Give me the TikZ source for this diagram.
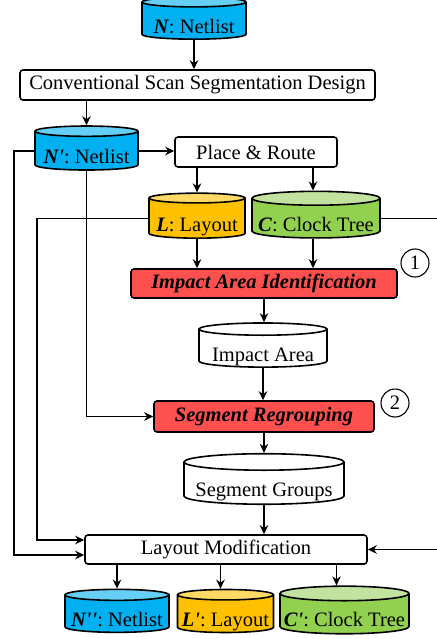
\documentclass[tikz,border=0pt]{standalone}
\usepackage{fontspec}
\setmainfont{Liberation Serif}
\usepackage{tikz}
\usetikzlibrary{shapes.geometric,arrows.meta}

\definecolor{netblue}{HTML}{00B0F0}
\definecolor{nettop}{HTML}{66CFF5}
\definecolor{layyel}{HTML}{FFC000}
\definecolor{laytop}{HTML}{FFD966}
\definecolor{clkgrn}{HTML}{92D050}
\definecolor{clktop}{HTML}{C2E3A0}
\definecolor{stepred}{HTML}{FF5050}

\newcommand{\figfont}{\fontsize{20.5}{24}\selectfont}
\newcommand{\bi}[1]{\textbf{\textit{#1}}}

\tikzset{
  proc/.style={draw, line width=1.6pt, rounded corners=3pt, fill=white,
    minimum height=30pt, inner sep=0pt},
  keyproc/.style={proc, fill=stepred, font=\figfont\bfseries\itshape},
  db/.style={cylinder, shape border rotate=90, draw, line width=1.6pt,
    aspect=0.12, inner sep=0pt, text height=25pt, text depth=0pt,
    cylinder uses custom fill, cylinder body fill=#1, cylinder end fill=#1},
  db/.default=white,
  numc/.style={circle, draw, line width=1.1pt, minimum size=28pt, inner sep=0pt},
  arr/.style={-{Stealth[length=9pt,width=8.5pt]}, line width=1.4pt}
}

\begin{document}
\begin{tikzpicture}[x=1pt, y=-1pt, font=\figfont]
  \useasboundingbox (0,0) rectangle (436,639);

  % inputs and first steps
  \node[db, cylinder body fill=netblue, cylinder end fill=nettop,
    minimum width=104pt, minimum height=42pt] (N) at (194,21) {\bi{N}: Netlist};
  \node[proc, minimum width=355pt] (conv) at (197.5,85) {Conventional Scan Segmentation Design};
  \node[db, cylinder body fill=netblue, cylinder end fill=nettop,
    minimum width=103pt, minimum height=44pt] (Np) at (86.5,151) {\bi{N\textquotesingle}: Netlist};
  \node[proc, minimum width=162pt] (pr) at (256,152) {Place \& Route};
  \node[db, cylinder body fill=layyel, cylinder end fill=laytop,
    minimum width=96pt, minimum height=45pt] (L) at (197,218.5) {\bi{L}: Layout};
  \node[db, cylinder body fill=clkgrn, cylinder end fill=clktop,
    minimum width=128pt, minimum height=45pt] (C) at (316,218.5) {\bi{C}: Clock Tree};

  % proposed steps
  \node[keyproc, minimum width=266pt, minimum height=29pt] (iai) at (264,283.5) {Impact Area Identification};
  \node[numc] (one) at (415,263) {1};
  \node[db, minimum width=128pt, minimum height=43pt] (ia) at (263,348.5) {Impact Area};
  \node[keyproc, minimum width=220pt, minimum height=31pt] (sr) at (264,416.5) {Segment Regrouping};
  \node[numc] (two) at (395,403) {2};
  \node[db, minimum width=160pt, minimum height=43pt] (sg) at (264,483.5) {Segment Groups};
  \node[proc, minimum width=282pt, minimum height=29pt] (lm) at (226,549.5) {Layout Modification};

  % outputs
  \node[db, cylinder body fill=netblue, cylinder end fill=nettop,
    minimum width=104pt, minimum height=43pt] (Npp) at (117,614) {\bi{N\textquotesingle\textquotesingle}: Netlist};
  \node[db, cylinder body fill=layyel, cylinder end fill=laytop,
    minimum width=96pt, minimum height=43pt] (Lp) at (225.5,614) {\bi{L\textquotesingle}: Layout};
  \node[db, cylinder body fill=clkgrn, cylinder end fill=clktop,
    minimum width=129pt, minimum height=43pt] (Cp) at (344.5,614) {\bi{C\textquotesingle}: Clock Tree};

  % main flow
  \draw[arr] (N.south) -- (N.south |- conv.north);
  \draw[arr] (Np.north |- conv.south) -- (Np.north);
  \draw[arr] (Np.east) -- (Np.east -| pr.west);
  \draw[arr] (pr.south -| L.north) -- (L.north);
  \draw[arr] ([xshift=-3pt]pr.south -| C.north) -- ([xshift=-3pt]C.north);
  \draw[arr] (L.south) -- (L.south |- iai.north);
  \draw[arr] ([xshift=-3pt]C.south) -- ([xshift=-3pt]C.south |- iai.north);
  \draw[arr] (iai.south) -- (iai.south |- ia.north);
  \draw[arr] (ia.south) -- (ia.south |- sr.north);
  \draw[arr] (sr.south) -- (sr.south |- sg.north);
  \draw[arr] (sg.south) -- (sg.south |- lm.north);
  \draw[arr] (lm.south -| Npp.north) -- (Npp.north);
  \draw[arr] ([xshift=-5pt]lm.south -| Lp.north) -- ([xshift=-5pt]Lp.north);
  \draw[arr] ([xshift=-8pt]lm.south -| Cp.north) -- ([xshift=-8pt]Cp.north);

  % side connections
  \draw[arr] (Np.west) -- ++(-20,0) |- ([yshift=-5.5pt]lm.west);
  \draw[arr] (Np.south) |- (sr.west);
  \draw[arr] (L.west) -- ++(-111,0) |- ([yshift=9.5pt]lm.west);
  \draw[arr] (C.east) -- ++(64,0) |- (lm.east);
\end{tikzpicture}
\end{document}
